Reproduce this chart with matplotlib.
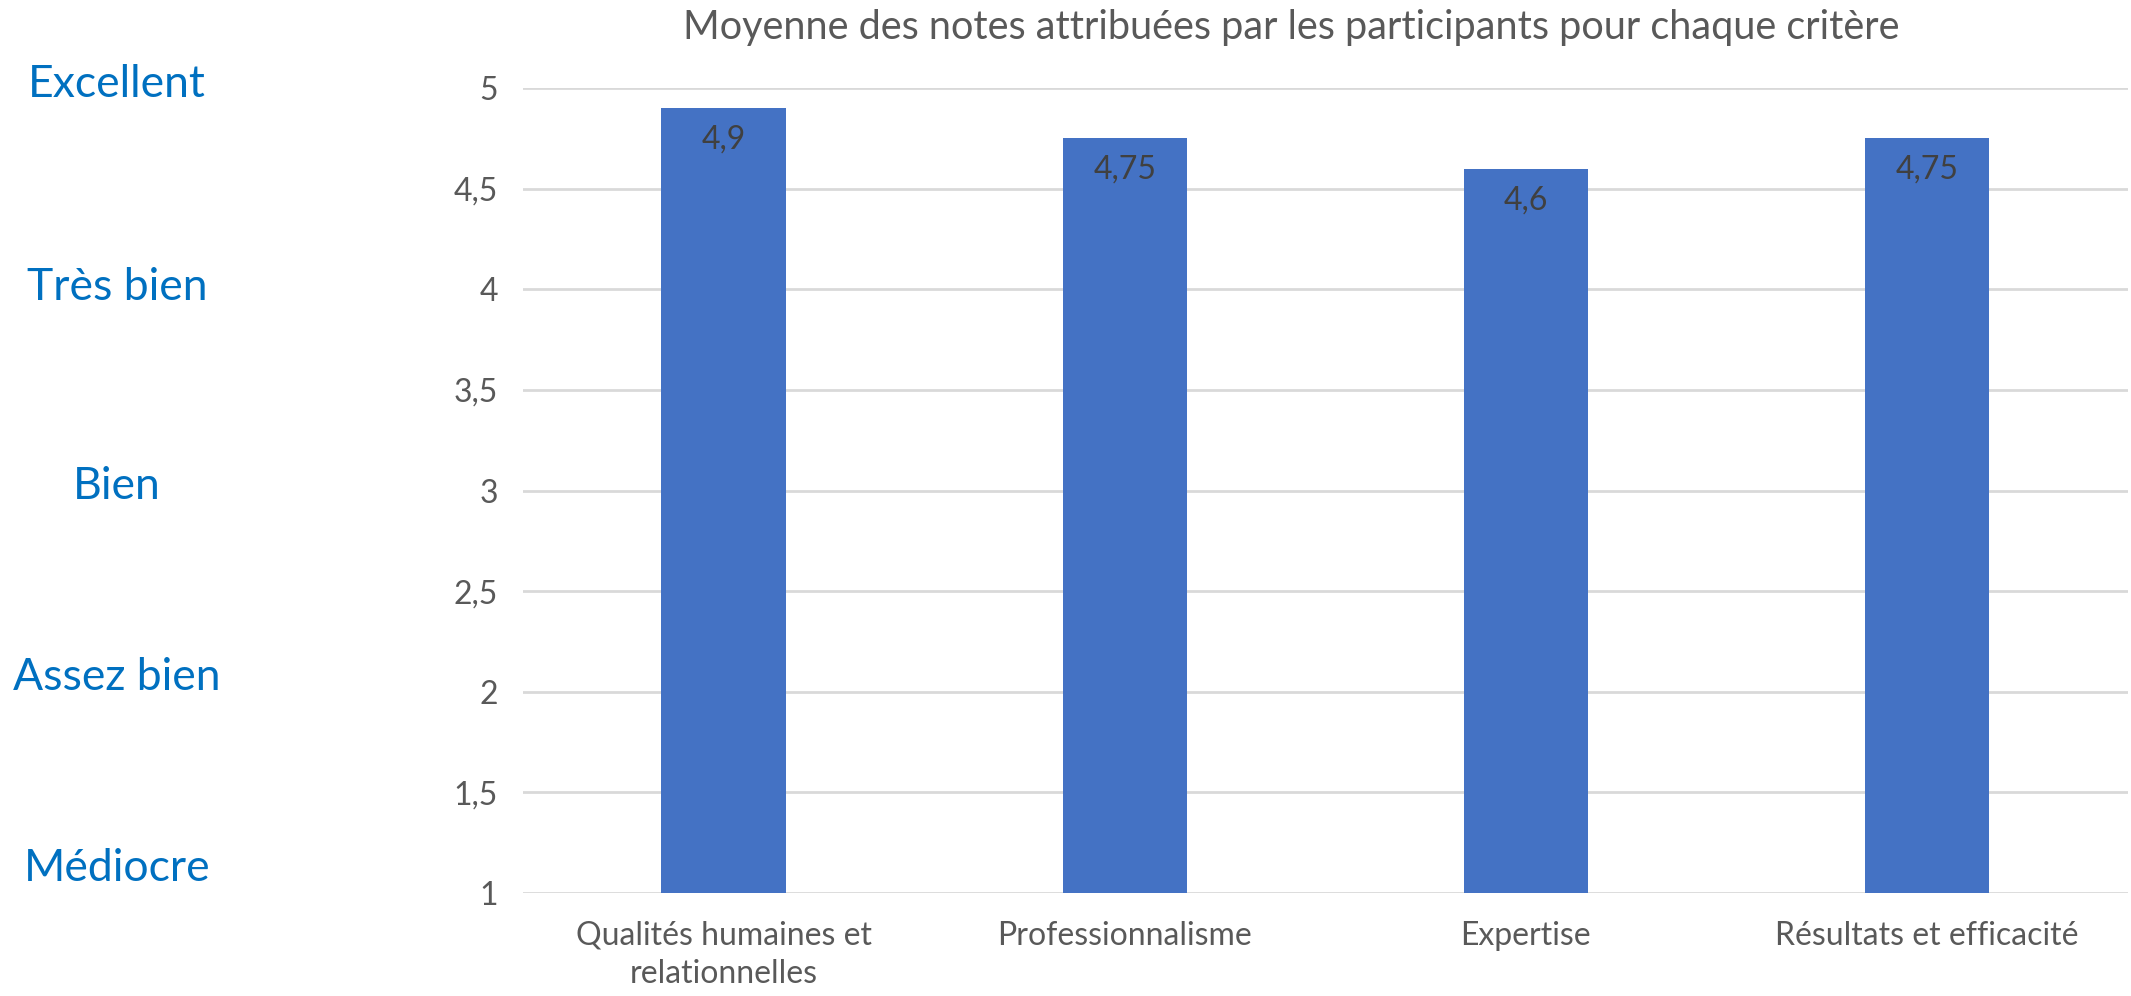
import matplotlib
matplotlib.use('Agg')
import matplotlib.pyplot as plt
import matplotlib.transforms as mtransforms
from matplotlib.ticker import FuncFormatter

plt.rcParams['font.family'] = ['Lato', 'DejaVu Sans']

# donnees
criteres = ['Qualités humaines et\nrelationnelles', 'Professionnalisme',
            'Expertise', 'Résultats et efficacité']
moyennes = [4.9, 4.75, 4.6, 4.75]
etiquettes_valeurs = ['4,9', '4,75', '4,6', '4,75']
appreciations = ['Excellent', 'Très bien', 'Bien', 'Assez bien', 'Médiocre']
niveaux = [5, 4, 3, 2, 1]
titre = 'Moyenne des notes attribuées par les participants pour chaque critère'

gris = '#595959'
bleu = '#4472C4'

fig = plt.figure(figsize=(21.31, 9.96), dpi=100)
ax = fig.add_axes([0.2454, 0.1034, 0.7530, 0.8082])

x = range(len(criteres))
barres = ax.bar(x, moyennes, width=0.31, color=bleu, zorder=2)

for b, lab in zip(barres, etiquettes_valeurs):
    ax.annotate(lab, (b.get_x() + b.get_width() / 2, b.get_height()),
                xytext=(0, -12), textcoords='offset points',
                ha='center', va='top', fontsize=23, color='#404040')

ax.set_xlim(-0.5, len(criteres) - 0.5)
ax.set_ylim(1, 5)
ax.set_yticks([1 + 0.5 * i for i in range(9)])
ax.yaxis.set_major_formatter(FuncFormatter(lambda v, p: ('%g' % v).replace('.', ',')))
ax.set_xticks(list(x))
ax.set_xticklabels(criteres, fontsize=23, color=gris, linespacing=1.35)
ax.tick_params(axis='y', labelsize=23, labelcolor=gris, length=0, pad=18)
ax.tick_params(axis='x', length=0, pad=20)
ax.grid(axis='y', color='#D9D9D9', linewidth=2, zorder=0)
for s in ax.spines.values():
    s.set_visible(False)

# echelle d'appreciation a gauche
pos_y = [5.02, 4.01, 3.02, 2.07, 1.12]
trans = mtransforms.blended_transform_factory(fig.transFigure, ax.transData)
for txt, y in zip(appreciations, pos_y):
    ax.text(0.055, y, txt, transform=trans, ha='center', va='center',
            fontsize=32, color='#0070C0', clip_on=False)

fig.text(0.606, 0.972, titre, ha='center', va='center', fontsize=28.5, color=gris)

plt.savefig('out.png', dpi=100)
